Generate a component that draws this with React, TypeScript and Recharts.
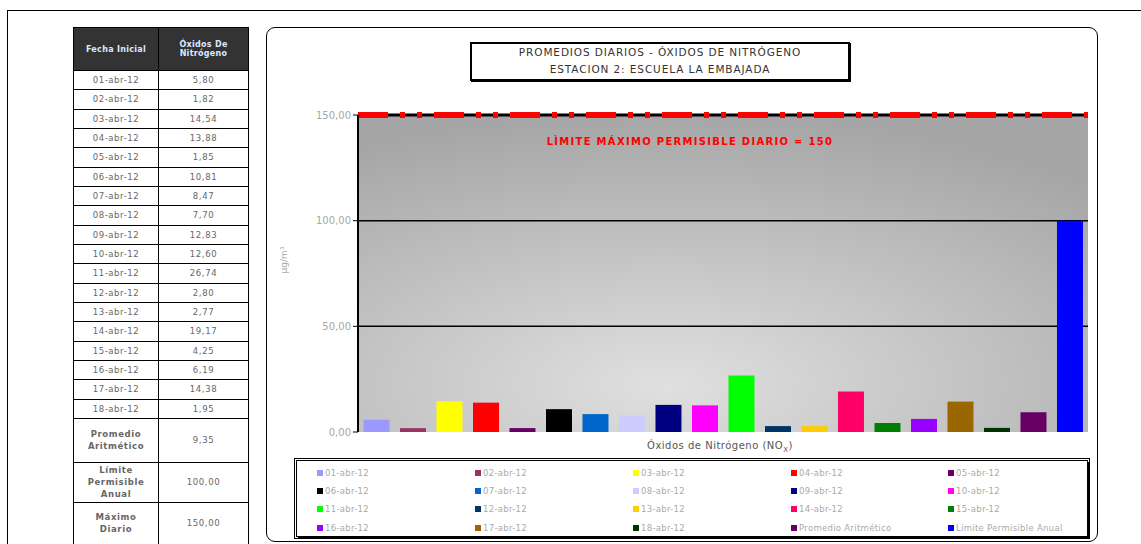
import { Bar, BarChart, CartesianGrid, Cell, ReferenceLine, XAxis, YAxis } from "recharts";

// daily NOx averages, station 2, april 2012
const fechas = [
  "01-abr-12", "02-abr-12", "03-abr-12", "04-abr-12", "05-abr-12", "06-abr-12",
  "07-abr-12", "08-abr-12", "09-abr-12", "10-abr-12", "11-abr-12", "12-abr-12",
  "13-abr-12", "14-abr-12", "15-abr-12", "16-abr-12", "17-abr-12", "18-abr-12",
];
const valores = [
  5.8, 1.82, 14.54, 13.88, 1.85, 10.81, 8.47, 7.7, 12.83, 12.6, 26.74, 2.8,
  2.77, 19.17, 4.25, 6.19, 14.38, 1.95,
];
const promedio = 9.35;
const limiteAnual = 100;
const maximoDiario = 150;

const colores = [
  "#9999ff", "#993366", "#ffff00", "#ff0000", "#660066", "#000000",
  "#0066cc", "#ccccff", "#000080", "#ff00ff", "#00ff00", "#003366",
  "#ffcc00", "#ff0066", "#008000", "#9900ff", "#996600", "#003300",
];
const colorPromedio = "#660066";
const colorLimite = "#0000ff";

const yTicks = [0, 50, 100, 150];

const data = [
  ...fechas.map((f, i) => ({ name: f, value: valores[i], color: colores[i] })),
  { name: "Promedio Aritmético", value: promedio, color: colorPromedio },
  { name: "Límite Permisible Anual", value: limiteAnual, color: colorLimite },
];

const coma = (v: number) => v.toFixed(2).replace(".", ",");

const font = "'DejaVu Sans', sans-serif";
const cell: React.CSSProperties = {
  border: "1.5px solid #000",
  textAlign: "center",
  padding: 0,
  fontSize: 8.5,
  color: "#666",
  letterSpacing: 0.6,
};
const cabecera: React.CSSProperties = {
  ...cell,
  color: "#dce8ff",
  fontWeight: "bold",
  fontSize: 8,
  letterSpacing: 0.3,
};

function Tabla() {
  return (
    <table
      style={{
        position: "absolute",
        left: 73,
        top: 27,
        width: 175,
        borderCollapse: "collapse",
        fontFamily: font,
        tableLayout: "fixed",
      }}
    >
      <colgroup>
        <col style={{ width: 85 }} />
        <col style={{ width: 90 }} />
      </colgroup>
      <tbody>
        <tr style={{ height: 43, background: "#333" }}>
          <td style={cabecera}>Fecha Inicial</td>
          <td style={cabecera}>
            Óxidos De
            <br />
            Nitrógeno
          </td>
        </tr>
        {fechas.map((f, i) => (
          <tr key={f} style={{ height: 19.33 }}>
            <td style={cell}>{f}</td>
            <td style={cell}>{coma(valores[i])}</td>
          </tr>
        ))}
        <tr style={{ height: 44 }}>
          <td style={{ ...cell, fontWeight: "bold", lineHeight: "12px" }}>
            Promedio
            <br />
            Aritmético
          </td>
          <td style={cell}>{coma(promedio)}</td>
        </tr>
        <tr style={{ height: 40 }}>
          <td style={{ ...cell, fontWeight: "bold", lineHeight: "12px" }}>
            Límite
            <br />
            Permisible
            <br />
            Anual
          </td>
          <td style={cell}>{coma(limiteAnual)}</td>
        </tr>
        <tr style={{ height: 42 }}>
          <td style={{ ...cell, fontWeight: "bold", lineHeight: "12px" }}>
            Máximo
            <br />
            Diario
          </td>
          <td style={cell}>{coma(maximoDiario)}</td>
        </tr>
      </tbody>
    </table>
  );
}

function Leyenda() {
  const colX = [316, 474, 632, 790, 947];
  const rowY = [467, 485, 503, 522];
  return (
    <div
      style={{
        position: "absolute",
        left: 296,
        top: 460,
        width: 790,
        height: 75,
        border: "1px solid #000",
        boxShadow: "2px 2px 0 #000, 0 0 0 1px #fff, 0 0 0 2px #000",
      }}
    >
      {data.map((d, i) => (
        <div
          key={d.name}
          style={{
            position: "absolute",
            left: colX[i % 5] - 296,
            top: rowY[Math.floor(i / 5)] - 460,
            display: "flex",
            alignItems: "center",
            fontFamily: font,
            fontSize: 8.5,
            color: "#aaa",
            letterSpacing: 0.3,
            whiteSpace: "nowrap",
          }}
        >
          <span style={{ width: 6, height: 6, background: d.color, marginRight: 2 }} />
          {d.name}
        </div>
      ))}
    </div>
  );
}

export default function App() {
  return (
    <div
      style={{
        position: "absolute",
        left: 0,
        top: 0,
        width: 1141,
        height: 544,
        background: "#fff",
        overflow: "hidden",
        fontFamily: font,
      }}
    >
      <div
        style={{
          position: "absolute",
          left: 7,
          top: 10,
          width: 1200,
          height: 600,
          borderTop: "1px solid #000",
          borderLeft: "1px solid #000",
        }}
      />
      <Tabla />
      <div
        style={{
          position: "absolute",
          left: 266,
          top: 27,
          width: 830,
          height: 513,
          border: "1.5px solid #000",
          borderRadius: 9,
        }}
      />
      <div
        style={{
          position: "absolute",
          left: 470,
          top: 42,
          width: 376,
          height: 35,
          border: "2px solid #000",
          boxShadow: "1px 1px 0 #000",
          textAlign: "center",
          fontSize: 10.5,
          lineHeight: "17px",
          color: "#333",
          letterSpacing: 0.9,
        }}
      >
        PROMEDIOS DIARIOS - ÓXIDOS DE NITRÓGENO
        <br />
        ESTACION 2: ESCUELA LA EMBAJADA
      </div>
      <div style={{ position: "absolute", left: 280, top: 100 }}>
        <BarChart
          width={820}
          height={345}
          data={data}
          margin={{ top: 15, right: 12, left: 0, bottom: 13 }}
          barCategoryGap="15%"
        >
          <defs>
            <radialGradient id="fondoPlot" cx="0.42" cy="0.85" r="0.85">
              <stop offset="0%" stopColor="#e0e0e0" />
              <stop offset="100%" stopColor="#a6a6a6" />
            </radialGradient>
          </defs>
          <CartesianGrid
            vertical={false}
            horizontalValues={[50, 100]}
            stroke="#000"
            strokeWidth={1.5}
            fill="url(#fondoPlot)"
            fillOpacity={1}
          />
          <XAxis dataKey="name" hide />
          <YAxis
            domain={[0, 150]}
            ticks={yTicks}
            width={78}
            tickFormatter={coma}
            tick={{ fill: "#a8a8a8", fontSize: 10 }}
            axisLine={{ stroke: "#000", strokeWidth: 2 }}
            tickLine={{ stroke: "#000" }}
            tickSize={5}
            label={{ value: "µg/m³", angle: -90, position: "insideLeft", offset: 4, fill: "#aaa", fontSize: 9 }}
          />
          <Bar dataKey="value" isAnimationActive={false}>
            {data.map((d) => (
              <Cell key={d.name} fill={d.color} />
            ))}
          </Bar>
          <ReferenceLine y={maximoDiario} stroke="#000" strokeWidth={3} />
          <ReferenceLine y={maximoDiario} stroke="#ff0000" strokeWidth={6} strokeDasharray="30 12 5 12 5 12" />
        </BarChart>
      </div>
      <div
        style={{
          position: "absolute",
          left: 530,
          top: 136,
          width: 320,
          textAlign: "center",
          color: "#ff0000",
          fontWeight: "bold",
          fontSize: 10,
          letterSpacing: 1.3,
        }}
      >
        LÌMITE MÁXIMO PERMISIBLE DIARIO = {maximoDiario}
      </div>
      <div
        style={{
          position: "absolute",
          left: 560,
          top: 440,
          width: 320,
          textAlign: "center",
          color: "#555",
          fontSize: 10,
          letterSpacing: 0.5,
        }}
      >
        Óxidos de Nitrógeno (NO<sub style={{ fontSize: 7 }}>X</sub>)
      </div>
      <Leyenda />
    </div>
  );
}
